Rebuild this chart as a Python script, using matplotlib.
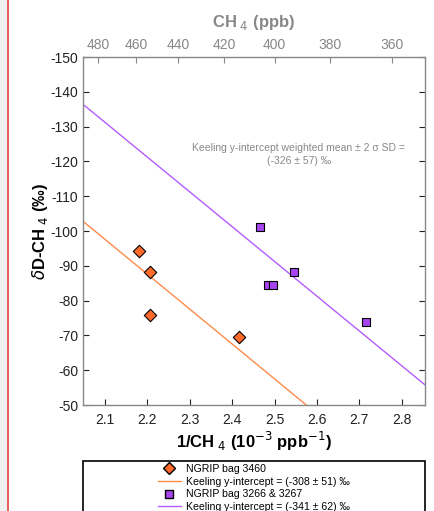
import numpy as np
import matplotlib
matplotlib.use('Agg')
import matplotlib.pyplot as plt
from matplotlib.lines import Line2D
from matplotlib.patches import Rectangle

plt.rcParams['font.family'] = ['Liberation Sans', 'DejaVu Sans']
plt.rcParams['axes.unicode_minus'] = False

# data (1/CH4 in 10^-3 ppb^-1, dD in permil)
bag3460_x = [2.180, 2.205, 2.205, 2.415]
bag3460_y = [-94.3, -88.3, -76.0, -69.6]
bag3266_x = [2.465, 2.484, 2.497, 2.545, 2.715]
bag3266_y = [-101.2, -84.6, -84.6, -88.3, -73.9]

# keeling fits: dD = intercept + slope * (1/CH4)
fit_intercepts = [-308, -341]
fit_slopes = [100.2, 99.9]
fit_labels = ['Keeling y-intercept = (-308 \u00b1 51) \u2030',
              'Keeling y-intercept = (-341 \u00b1 62) \u2030']

ch4_ticks = [480, 460, 440, 420, 400, 380, 360]

orange = '#FF6A2A'
orange_line = '#FF8A4A'
purple = '#A845F0'
purple_line = '#B45CFF'

fig = plt.figure(figsize=(4.35, 5.11), dpi=100)
# screenshot strip on the left
fig.patches.append(Rectangle((0, 0), 8 / 435, 1, transform=fig.transFigure,
                             facecolor='#f0f0f0', edgecolor='none', zorder=0))
fig.add_artist(Line2D([8.5 / 435, 8.5 / 435], [0, 1], transform=fig.transFigure,
                      color='#e84040', lw=1.2))

ax = fig.add_axes([83 / 435, 1 - 405 / 511, 342 / 435, 348 / 511])
xlim = (2.048, 2.855)
ax.set_xlim(xlim)
ax.set_ylim(-50, -150)

xx = np.array(xlim)
ax.plot(xx, fit_intercepts[0] + fit_slopes[0] * xx, color=orange_line, lw=1)
ax.plot(xx, fit_intercepts[1] + fit_slopes[1] * xx, color=purple_line, lw=1)
ax.scatter(bag3460_x, bag3460_y, marker='D', s=40, facecolor=orange,
           edgecolor='black', linewidth=0.8, zorder=3)
ax.scatter(bag3266_x, bag3266_y, marker='s', s=36, facecolor=purple,
           edgecolor='black', linewidth=0.8, zorder=3)

ax.set_xticks(np.arange(2.1, 2.81, 0.1))
ax.set_xticklabels(['%.1f' % v for v in np.arange(2.1, 2.81, 0.1)])
ax.set_yticks(np.arange(-150, -49, 10))
ax.tick_params(direction='in', length=4, labelsize=10, colors='#222222',
               right=True, width=0.8)
ax.tick_params(axis='x', pad=6)
for s in ax.spines.values():
    s.set_color('#888888')
    s.set_linewidth(1)

ax.set_xlabel(r'1/CH$_{\ 4}$ (10$^{-3}$ ppb$^{-1}$)', fontsize=12,
              fontweight='bold', labelpad=2)
ax.set_ylabel(r'$\delta$D-CH$_{\ 4}$ (‰)', fontsize=12, fontweight='bold',
              labelpad=0)

ax2 = ax.twiny()
ax2.set_xlim(xlim)
ax2.set_xticks([1000 / c for c in ch4_ticks])
ax2.set_xticklabels([str(c) for c in ch4_ticks])
ax2.tick_params(direction='in', length=4, labelsize=10, colors='#888888',
                width=0.8)
for s in ax2.spines.values():
    s.set_visible(False)
ax2.set_xlabel(r'CH$_{\ 4}$ (ppb)', fontsize=12, fontweight='bold',
               color='#888888', labelpad=8)

ax.text(2.557, -122, 'Keeling y-intercept weighted mean \u00b1 2 \u03c3 SD =\n'
        '(-326 \u00b1 57) \u2030', ha='center', va='center', fontsize=7.5,
        color='#888888', linespacing=1.3)

handles = [
    Line2D([], [], marker='D', ls='none', markerfacecolor=orange,
           markeredgecolor='black', markersize=6),
    Line2D([], [], color=orange_line, lw=1),
    Line2D([], [], marker='s', ls='none', markerfacecolor=purple,
           markeredgecolor='black', markersize=5.5),
    Line2D([], [], color=purple_line, lw=1),
]
labels = ['NGRIP bag 3460', fit_labels[0], 'NGRIP bag 3266 & 3267', fit_labels[1]]
# legend frame spans the axes width and runs past the bottom edge
fig.patches.append(Rectangle((83 / 435, -0.05), 342 / 435, 0.05 + (511 - 461) / 511,
                             transform=fig.transFigure, facecolor='white',
                             edgecolor='black', linewidth=1.2, zorder=1))
leg = fig.legend(handles, labels, loc='upper center',
                 bbox_to_anchor=(254 / 435, 1 - 464 / 511),
                 fontsize=7.6, frameon=False, borderpad=0, labelspacing=0.25,
                 handlelength=2.2, handletextpad=0.5, borderaxespad=0)

fig.savefig('out.png', dpi=100)
